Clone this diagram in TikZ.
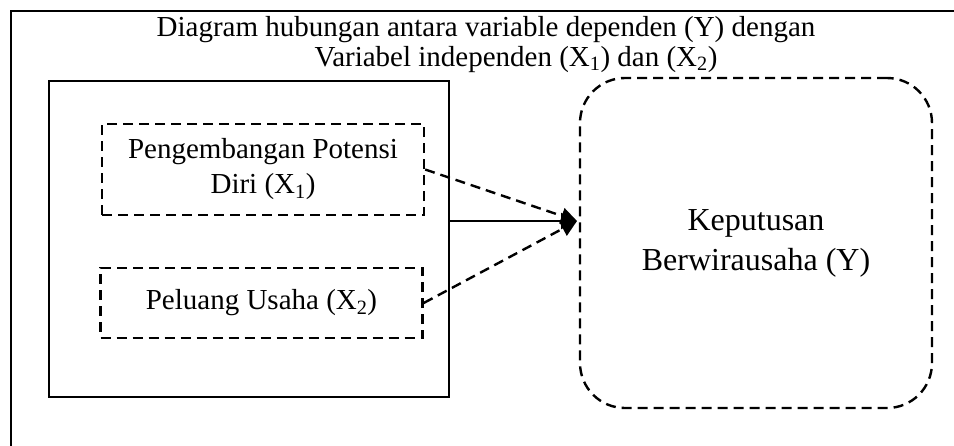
\documentclass[tikz,border=0pt]{standalone}
\usepackage{fontspec}
\setmainfont{Liberation Serif}
\usetikzlibrary{arrows.meta}

\begin{document}
\begin{tikzpicture}[x=1pt,y=-1pt,line width=2.4pt,
        font=\fontsize{29}{35}\selectfont,
        varbox/.style={draw,dash pattern=on 10pt off 6pt,minimum width=322pt,minimum height=91pt,align=center},
        varline/.style={dash pattern=on 10pt off 6pt,-{Triangle[length=16pt,width=16pt]}}]
    \useasboundingbox (0,0) rectangle (954,445);
    \clip (0,0) rectangle (954,445);
    \draw (11,470) |- (970,11);
    \node[anchor=base] (title1) at (486,36) {Diagram hubungan antara variable dependen (Y) dengan};
    \node[anchor=base] (title2) at (516,66) {Variabel independen (X\textsubscript{1}) dan (X\textsubscript{2})};
    \node[draw,minimum width=400pt,minimum height=316pt] (grp) at (249,239) {};
    \node[varbox] (x1) at (263,169.5) {Pengembangan Potensi\\Diri (X\textsubscript{1})};
    \node[varbox,minimum height=70pt] (x2) at (261.5,303) {Peluang Usaha (X\textsubscript{2})};
    \node[draw,dash pattern=on 10pt off 6pt,rounded corners=45pt,minimum width=352pt,minimum height=330pt,
        align=center,font=\fontsize{32}{40}\selectfont] (kep) at (756,243) {Keputusan\\Berwirausaha (Y)};
    \coordinate (tip) at (577,221);
    \draw[-{Triangle[length=16pt,width=16pt]}] (grp.east |- tip) -- (tip);
    \draw[varline] (x1.east) -- (tip);
    \draw[varline] (x2.east) -- (tip);
\end{tikzpicture}
\end{document}
